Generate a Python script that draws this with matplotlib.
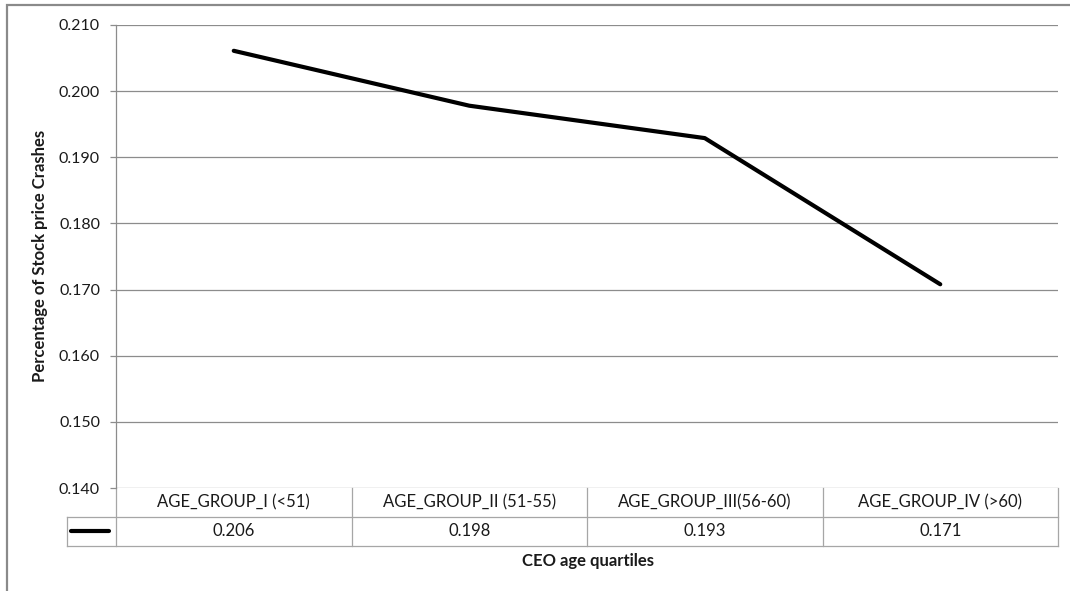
import matplotlib.pyplot as plt
from matplotlib.patches import Rectangle

plt.rcParams['font.family'] = ['Lato', 'DejaVu Sans']

# crash share by CEO age quartile
groups = ['AGE_GROUP_I (<51)', 'AGE_GROUP_II (51-55)',
          'AGE_GROUP_III(56-60)', 'AGE_GROUP_IV (>60)']
crash_pct = [0.2061, 0.1978, 0.1929, 0.1708]
yticks = [0.140, 0.150, 0.160, 0.170, 0.180, 0.190, 0.200, 0.210]

W, H = 1070, 591
fig = plt.figure(figsize=(W / 100, H / 100), dpi=100)
ax = fig.add_axes([116 / W, 1 - 488 / H, 942 / W, 463 / H])

grid_c = '#8c8c8c'
tab_c = '#a6a6a6'
txt_c = '#1a1a1a'
fs = 12

xs = list(range(len(groups)))
ax.plot(xs, crash_pct, color='black', lw=3, solid_capstyle='round',
        solid_joinstyle='round', zorder=3)

ax.set_xlim(-0.5, len(groups) - 0.5)
ax.set_ylim(yticks[0], yticks[-1])
ax.set_yticks(yticks)
ax.set_yticklabels(['%.3f' % t for t in yticks], fontsize=11.5, color=txt_c)
ax.set_xticks([])
for t in yticks:
    ax.axhline(t, color=grid_c, lw=0.9, zorder=1)
for s in ['top', 'right', 'bottom']:
    ax.spines[s].set_visible(False)
ax.spines['left'].set_color(grid_c)
ax.spines['left'].set_linewidth(0.9)
ax.tick_params(axis='y', length=4.5, width=0.9, color=grid_c, pad=7)

# data table under the plot (axes fraction coords)
ta = ax.transAxes
r1 = -28.5 / 463
r2 = -57.5 / 463
key_l = -49 / 942
n = len(groups)
line_kw = dict(transform=ta, clip_on=False, color=tab_c, lw=0.9)
ax.plot([1, 1], [0, r2], **line_kw)
for i in range(n):
    ax.plot([i / n, i / n], [0, r2], **line_kw)
ax.plot([key_l, 1], [r1, r1], **line_kw)
ax.plot([key_l, 1], [r2, r2], **line_kw)
ax.plot([key_l, key_l], [r1, r2], **line_kw)
for i, (g, v) in enumerate(zip(groups, crash_pct)):
    cx = (i + 0.5) / n
    ax.text(cx, r1 / 2, g, transform=ta, ha='center', va='center',
            fontsize=fs, color=txt_c)
    ax.text(cx, (r1 + r2) / 2, '%.3f' % v, transform=ta, ha='center',
            va='center', fontsize=fs, color=txt_c)
# legend key in the table
ax.plot([-45 / 942, -7 / 942], [(r1 + r2) / 2] * 2, transform=ta,
        clip_on=False, color='black', lw=3, solid_capstyle='round')

fig.text(40 / W, 1 - 256 / H, 'Percentage of Stock price Crashes',
         rotation=90, ha='center', va='center', fontsize=fs,
         fontweight='bold', color=txt_c)
fig.text(588 / W, 1 - 561 / H, 'CEO age quartiles', ha='center',
         va='center', fontsize=fs, fontweight='bold', color=txt_c)

# chart frame
fig.patches.append(Rectangle((6.5 / W, -0.1), 2, 1.1 - 5.5 / H,
                             transform=fig.transFigure, fill=False,
                             edgecolor='#8a8a8a', lw=1.6))

fig.savefig('out.png', dpi=100)
